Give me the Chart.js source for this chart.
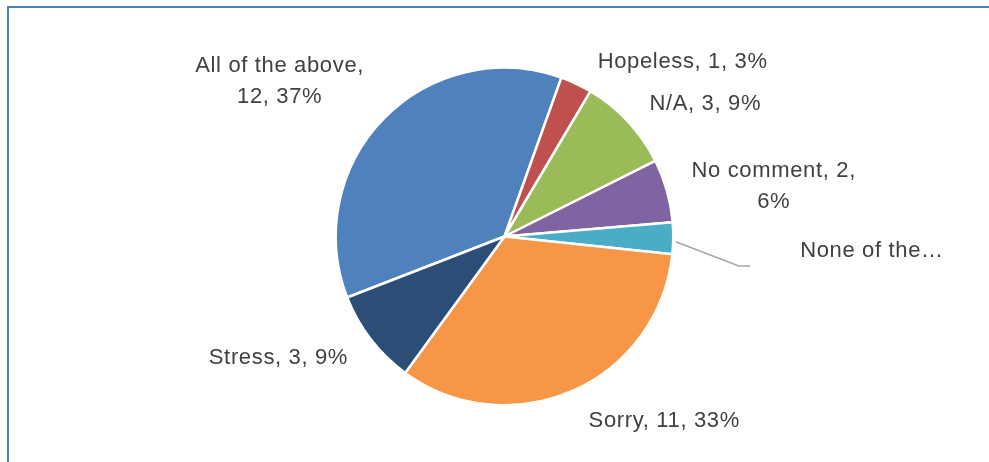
<!DOCTYPE html>
<html>
<head>
<meta charset="utf-8">
<script src="https://cdn.jsdelivr.net/npm/chart.js@4"></script>
<style>
  html, body { margin: 0; padding: 0; background: #ffffff; }
  #wrap { width: 989px; height: 462px; position: relative; }
</style>
</head>
<body>
<div id="wrap"><canvas id="pie" width="989" height="462"></canvas></div>
<script>
// Responses and counts
const categories = ["All of the above", "Hopeless", "N/A", "No comment", "None of the above", "Sorry", "Stress"];
const counts = [12, 1, 3, 2, 1, 11, 3];
const percentLabels = ["37%", "3%", "9%", "6%", "3%", "33%", "9%"];

// Label text as drawn (wrapped / truncated lines)
const labelLines = [
  ["All of the above,", "12, 37%"],
  ["Hopeless, 1, 3%"],
  ["N/A, 3, 9%"],
  ["No comment, 2,", "6%"],
  ["None of the\u2026"],
  ["Sorry, 11, 33%"],
  ["Stress, 3, 9%"]
];

const sliceColors = ["#4F81BD", "#C0504D", "#9BBB59", "#8064A2", "#4BACC6", "#F79646", "#2C4D75"];

// Offset of each label's first baseline (centre) from the slice's outer mid point
const labelOffsets = [
  [-104, -46.6], [106.4, -16.2], [77.4, -11.2], [106.8, -13.9],
  [198.7, 18.4], [91.3, 36.7], [-92.3, 24.7]
];

const frameAndLabels = {
  id: 'frameAndLabels',
  beforeDraw(chart) {
    const ctx = chart.ctx;
    ctx.save();
    ctx.strokeStyle = '#4F81BD';
    ctx.lineWidth = 2;
    ctx.strokeRect(8, 7, 1100, 600);
    ctx.restore();
  },
  afterDraw(chart) {
    const ctx = chart.ctx;
    const meta = chart.getDatasetMeta(0);
    ctx.save();
    ctx.font = '22px "Liberation Sans", Arial, sans-serif';
    ctx.letterSpacing = '0.65px';
    ctx.fillStyle = '#404040';
    ctx.textAlign = 'center';
    ctx.textBaseline = 'alphabetic';
    meta.data.forEach((arc, i) => {
      const p = arc.getProps(['x', 'y', 'startAngle', 'endAngle', 'outerRadius'], true);
      const mid = (p.startAngle + p.endAngle) / 2;
      const ex = p.x + Math.cos(mid) * p.outerRadius;
      const ey = p.y + Math.sin(mid) * p.outerRadius;
      const lx = ex + labelOffsets[i][0];
      const ly = ey + labelOffsets[i][1];
      labelLines[i].forEach((line, k) => {
        ctx.fillText(line, lx, ly + k * 30.7);
      });
      if (i === 4) {
        // leader line for the truncated label
        ctx.save();
        ctx.strokeStyle = '#A6A6A6';
        ctx.lineWidth = 1.5;
        ctx.beginPath();
        ctx.moveTo(ex + 2.5, ey + 3.4);
        ctx.lineTo(ex + 65.5, ey + 27.7);
        ctx.lineTo(ex + 77, ey + 27.7);
        ctx.stroke();
        ctx.restore();
      }
    });
    ctx.restore();
  }
};

new Chart(document.getElementById('pie'), {
  type: 'pie',
  data: {
    labels: categories,
    datasets: [{
      data: counts,
      backgroundColor: sliceColors,
      borderColor: '#ffffff',
      borderWidth: 2.5
    }]
  },
  options: {
    responsive: false,
    devicePixelRatio: 1,
    animation: false,
    rotation: 248.8,
    layout: { padding: { left: 334.5, right: 314.5, top: 66.5, bottom: 55.5 } },
    plugins: {
      legend: { display: false },
      tooltip: { enabled: false }
    }
  },
  plugins: [frameAndLabels]
});
</script>
</body>
</html>
